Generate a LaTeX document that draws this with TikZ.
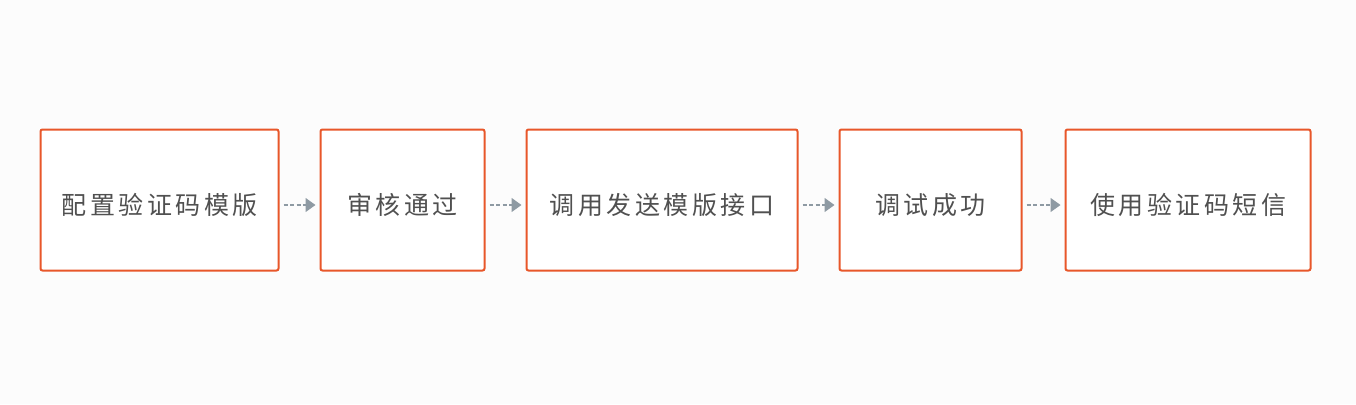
\documentclass[tikz,border=0pt]{standalone}
\usepackage{fontspec}
\setmainfont[LetterSpace=14]{Noto Sans CJK SC}
\usetikzlibrary{arrows.meta}
\definecolor{rahmen}{HTML}{E8572A}
\definecolor{pfeil}{HTML}{8E9AA3}
\definecolor{schrift}{HTML}{505050}
\definecolor{grund}{HTML}{FCFCFC}
\tikzset{
	kasten/.style={draw=rahmen,line width=2pt,rounded corners=2pt,fill=white,minimum height=141pt,text=schrift,font=\fontsize{25}{28}\selectfont,inner sep=0pt,text height=29pt,text depth=0pt},
	pfeilstil/.style={draw=pfeil,line width=1.2pt,dash pattern=on 4pt off 2.5pt,shorten <=4pt,shorten >=4pt,-{Triangle[length=10pt,width=14pt,fill=pfeil]}}
}
\begin{document}
\begin{tikzpicture}[x=1pt,y=-1pt]
	\fill[grund] (0,0) rectangle (1356,404);%Hintergrund
	\useasboundingbox (0,0) rectangle (1356,404);
	\node[kasten,minimum width=238pt] (konfig) at (159.5,200) {配置验证码模版};
	\node[kasten,minimum width=164pt] (pruefung) at (402.5,200) {审核通过};
	\node[kasten,minimum width=271pt] (schnittstelle) at (662,200) {调用发送模版接口};
	\node[kasten,minimum width=182pt] (test) at (930.5,200) {调试成功};
	\node[kasten,minimum width=245pt] (nutzung) at (1188,200) {使用验证码短信};
	\draw[pfeilstil] ([yshift=-5pt]konfig.east) -- ([yshift=-5pt]pruefung.west);%Pfeil 1
	\draw[pfeilstil] ([yshift=-5pt]pruefung.east) -- ([yshift=-5pt]schnittstelle.west);%Pfeil 2
	\draw[pfeilstil] ([yshift=-5pt]schnittstelle.east) -- ([yshift=-5pt]test.west);%Pfeil 3
	\draw[pfeilstil] ([yshift=-5pt]test.east) -- ([yshift=-5pt]nutzung.west);%Pfeil 4
\end{tikzpicture}
\end{document}
